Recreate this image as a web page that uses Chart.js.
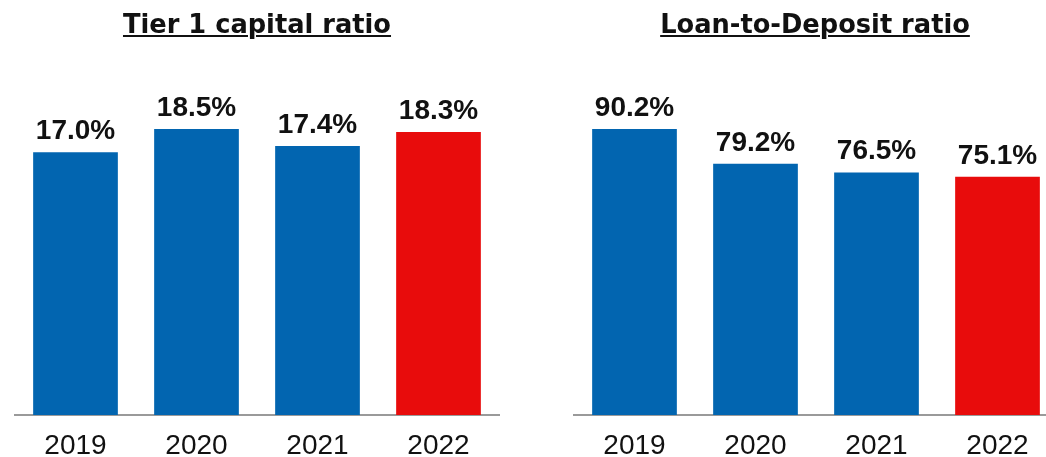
<!DOCTYPE html>
<html>
<head>
<meta charset="utf-8">
<script src="https://cdn.jsdelivr.net/npm/chart.js@4.4.1/dist/chart.umd.min.js"></script>
<style>
  html, body { margin: 0; padding: 0; background: #fff; }
  #wrap { position: relative; width: 1046px; height: 457px; overflow: hidden; background: #fff; }
  .panel { position: absolute; top: 0; width: 520px; height: 457px; }
  .title {
    position: absolute; top: 9px; height: 30px; line-height: 30px;
    font-family: "DejaVu Sans", sans-serif; font-weight: bold; font-size: 25.7px;
    color: #111; text-align: center; white-space: nowrap;
    text-decoration: underline; text-decoration-thickness: 2px; text-underline-offset: 2px;
  }
</style>
</head>
<body>
<div id="wrap">
  <div class="panel" style="left:0px"><canvas id="c1" width="520" height="457"></canvas></div>
  <div class="panel" style="left:559px"><canvas id="c2" width="520" height="457"></canvas></div>
  <div class="title" style="left:0px; width:514px;">Tier 1 capital ratio</div>
  <div class="title" style="left:559px; width:512px;">Loan-to-Deposit ratio</div>
</div>
<script>
const years = ["2019", "2020", "2021", "2022"];
const tier1Ratio = [17.0, 18.5, 17.4, 18.3];
const loanToDeposit = [90.2, 79.2, 76.5, 75.1];
const barColors = ["#0265B0", "#0265B0", "#0265B0", "#E80C0C"];

// writes each bar's value above it
const valueLabels = {
  id: "valueLabels",
  afterDatasetsDraw(chart) {
    const ctx = chart.ctx;
    const meta = chart.getDatasetMeta(0);
    const data = chart.data.datasets[0].data;
    ctx.save();
    ctx.font = "bold 28px 'Liberation Sans', Arial, sans-serif";
    ctx.fillStyle = "#111";
    ctx.textAlign = "center";
    ctx.textBaseline = "alphabetic";
    meta.data.forEach((bar, i) => {
      ctx.fillText(data[i].toFixed(1) + "%", bar.x, bar.y - 13);
    });
    ctx.restore();
  }
};

function makeChart(id, values) {
  const top = Math.max(...values) * 1.241;
  return new Chart(document.getElementById(id), {
    type: "bar",
    data: {
      labels: years,
      datasets: [{
        data: values,
        backgroundColor: barColors,
        borderWidth: 0,
        categoryPercentage: 0.7,
        barPercentage: 1.0
      }]
    },
    options: {
      responsive: false,
      animation: false,
      events: [],
      layout: { padding: { left: 15, right: 21, top: 60, bottom: 0 } },
      plugins: { legend: { display: false }, tooltip: { enabled: false }, title: { display: false } },
      scales: {
        x: {
          grid: { display: false, drawTicks: false },
          border: { display: true, color: "#9a9a9a", width: 2 },
          ticks: {
            color: "#111",
            padding: 14,
            font: { family: "'Liberation Sans', Arial, sans-serif", size: 28 }
          },
          afterFit(scale) { scale.height = 42; }
        },
        y: {
          display: false,
          min: 0,
          max: top
        }
      }
    },
    plugins: [valueLabels]
  });
}

makeChart("c1", tier1Ratio);
makeChart("c2", loanToDeposit);
</script>
</body>
</html>
